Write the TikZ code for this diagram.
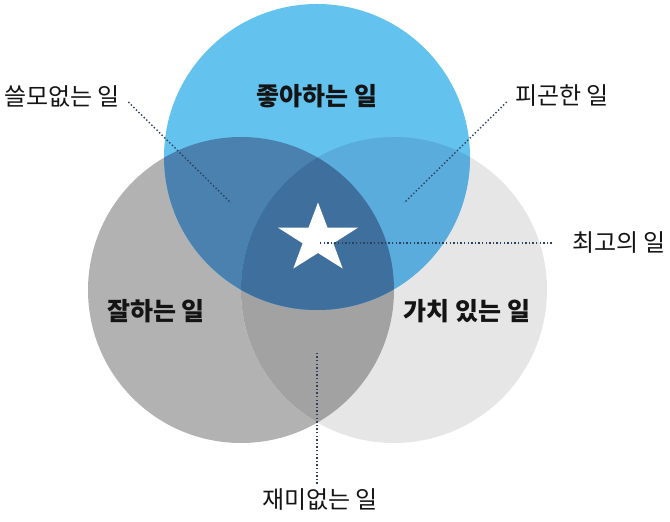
\documentclass[tikz,border=0pt]{standalone}
\usepackage{fontspec}
\setmainfont{Noto Sans CJK KR}
\usepackage{xcolor}
\usetikzlibrary{shapes.geometric,positioning}

\definecolor{likeblue}{RGB}{99,195,238}
\definecolor{skillgrey}{RGB}{178,178,178}
\definecolor{valuegrey}{RGB}{230,230,230}
\definecolor{dullgrey}{RGB}{162,162,162}
\definecolor{uselessblue}{RGB}{74,129,175}
\definecolor{tiredblue}{RGB}{89,172,220}
\definecolor{bestblue}{RGB}{63,111,157}
\definecolor{leadcol}{RGB}{45,65,95}

\begin{document}
\begin{tikzpicture}[
    x=0.5pt, y=-0.5pt,
    sidelabel/.style={inner sep=0pt, text=black!92, font=\fontsize{12}{14}\selectfont},
    setlabel/.style={inner sep=0pt, text=black!92, font=\fontsize{12.5}{14}\selectfont\bfseries},
    leader/.style={draw=leadcol, line width=0.7pt, dash pattern=on 0.7pt off 1.1pt}
]
    \useasboundingbox (0,0) rectangle (670,522);

    \coordinate (like) at (317,157);
    \coordinate (skill) at (241,290);
    \coordinate (value) at (394,290);

    \fill[skillgrey] (skill) circle (153);
    \fill[valuegrey] (value) circle (153);
    \fill[likeblue] (like) circle (153);
    \begin{scope}
        \clip (skill) circle (153);
        \fill[dullgrey] (value) circle (153);
    \end{scope}
    \begin{scope}
        \clip (like) circle (153);
        \fill[uselessblue] (skill) circle (153);
        \fill[tiredblue] (value) circle (153);
        \clip (skill) circle (153);
        \fill[bestblue] (value) circle (153);
    \end{scope}

    \begin{scope}[shift={(318,239)}, xscale=1.15]
        \node[star, star points=5, star point ratio=2.6, fill=white, draw=none,
              minimum size=36.5pt, inner sep=0pt, transform shape] (best) at (0,0) {};
    \end{scope}

    \node[setlabel] (likelabel) at (317,96) {좋아하는 일};
    \node[setlabel] (skilllabel) at (156,311) {잘하는 일};
    \node[setlabel] (valuelabel) at (467,311) {가치 있는 일};

    \node[sidelabel] (useless) at (62,96) {쓸모없는 일};
    \node[sidelabel] (tired) at (562,96) {피곤한 일};
    \node[sidelabel] (bestlabel) at (619,243) {최고의 일};
    \node[sidelabel] (dull) at (320,500) {재미없는 일};

    \coordinate (uselessend) at (231,203);
    \coordinate (tiredend) at (404,203);
    \coordinate (dullend) at (317,353);

    \draw[leader] ([shift={(8,6)}]useless.east) -- (uselessend);
    \draw[leader] ([shift={(-8,6)}]tired.west) -- (tiredend);
    \draw[leader] ([xshift=-10]bestlabel.west) -- (bestlabel.west -| best.center);
    \draw[leader] (dull.north -| dullend) ++(0,-5) -- (dullend);
\end{tikzpicture}
\end{document}
